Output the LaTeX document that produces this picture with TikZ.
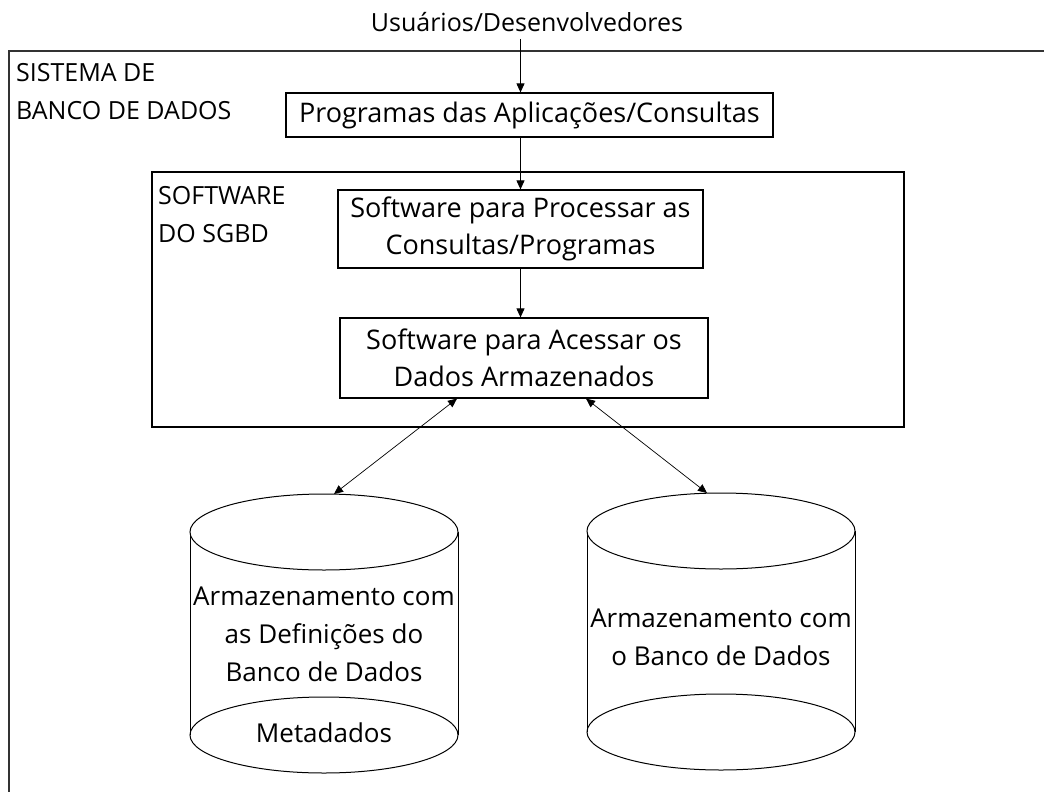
\documentclass[tikz,border=0pt]{standalone}
\usepackage{fontspec}
\setmainfont{Open Sans}
\usetikzlibrary{arrows.meta,positioning}
\tikzset{
  caixa/.style={draw,line width=1.2pt,inner sep=0pt,align=center,
    font=\fontsize{27}{37}\selectfont},
  rotulo/.style={inner sep=0pt,align=left,anchor=north west,
    font=\fontsize{25}{38}\selectfont},
  texto/.style={inner sep=0pt,align=center,
    font=\fontsize{26}{38}\selectfont},
  seta/.style={-{Triangle[length=9pt,width=8pt]},line width=0.9pt},
  setadupla/.style={{Triangle[length=9pt,width=8pt]}-{Triangle[length=9pt,width=8pt]},
    line width=0.7pt},
  disco/.style={line width=1pt}
}

\begin{document}
\begin{tikzpicture}[x=1pt,y=-1pt]
  \useasboundingbox (0,0) rectangle (1044,792);
  \clip (0,0) rectangle (1044,792);

  % sistema como um todo
  \draw[line width=1.8pt,black!80] (9,51) rectangle (1080,830);
  \node[rotulo] (sistema) at (16,63) {SISTEMA DE\\BANCO DE DADOS};

  \node[texto,font=\fontsize{25}{30}\selectfont,inner ysep=7pt] (usuarios)
    at (527,22) {Usuários/Desenvolvedores};
  \node[caixa,minimum width=487pt,minimum height=44pt] (programas)
    at (529.5,115) {Programas das Aplicações/Consultas};

  % software do SGBD
  \node[caixa,minimum width=752pt,minimum height=255pt] (sgbd) at (528,299.5) {};
  \node[rotulo] (software) at (158,186) {SOFTWARE\\DO SGBD};
  \node[caixa,minimum width=365pt,minimum height=78pt] (processar)
    at (520.5,229) {Software para Processar as\\Consultas/Programas};
  \node[caixa,minimum width=368pt,minimum height=80pt] (acessar)
    at (524,358) {Software para Acessar os\\Dados Armazenados};

  % discos
  \foreach \cx/\ct/\cb/\nome in {324/532/735/A,721/531/732/B}{
    \draw[disco] (\cx-134,\ct) -- (\cx-134,\cb) (\cx+134,\ct) -- (\cx+134,\cb);
    \draw[disco,fill=white] (\cx,\ct) ellipse (134 and 38);
    \draw[disco] (\cx,\cb) ellipse (134 and 38);
  }
  \coordinate (topoA) at (334,494);
  \coordinate (topoB) at (707,493);
  \node[texto] (defs) at (324,634)
    {Armazenamento com\\as Definições do\\Banco de Dados};
  \node[texto] (meta) at (324,733) {Metadados};
  \node[texto] (dados) at (721,637) {Armazenamento com\\o Banco de Dados};

  \draw[seta] (usuarios.south -| processar.north) -- (programas.north -| processar.north);
  \draw[seta] (programas.south -| processar.north) -- (processar.north);
  \draw[seta] (processar.south) -- (acessar.north -| processar.south);
  \draw[setadupla] ([xshift=-67pt]acessar.south) -- (topoA);
  \draw[setadupla] ([xshift=62pt]acessar.south) -- (topoB);
\end{tikzpicture}
\end{document}
